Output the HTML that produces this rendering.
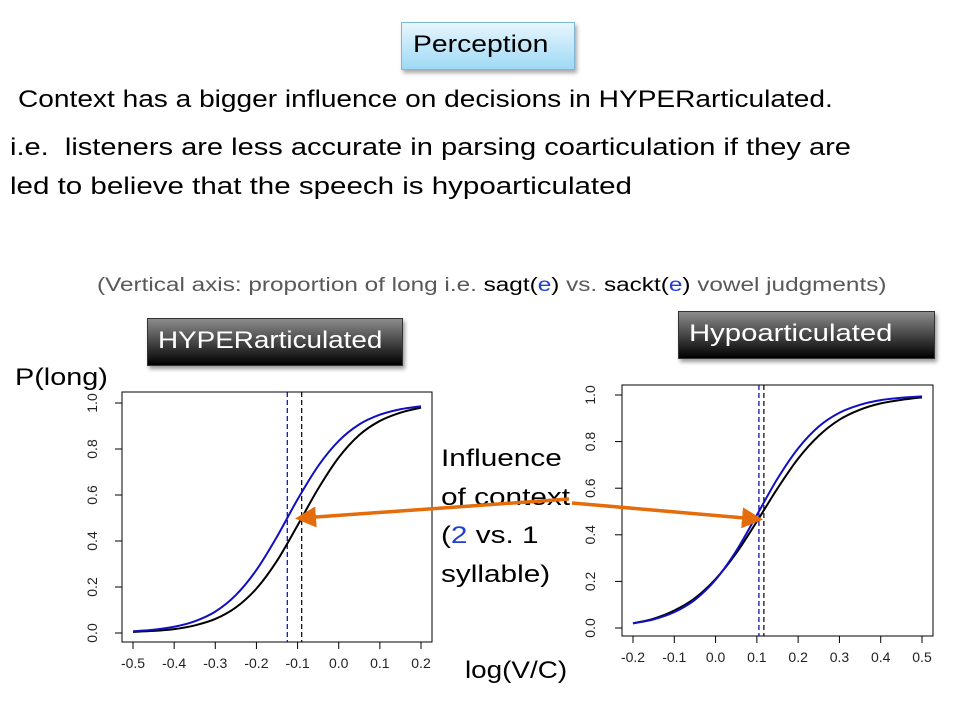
<!DOCTYPE html>
<html><head><meta charset="utf-8"><style>
body{margin:0;width:960px;height:720px;background:#fff;position:relative;overflow:hidden;font-family:"Liberation Sans",sans-serif}
.t{position:absolute;white-space:nowrap;color:#000;font-size:24px;transform-origin:0 0}
.box{position:absolute;box-sizing:border-box;font-size:24px;padding-left:10px;line-height:44px;white-space:nowrap}
.box span{display:inline-block;transform-origin:0 50%}
</style></head><body>
<div class="box" style="left:401px;top:22px;width:174px;height:48px;background:linear-gradient(#e8f6fd,#9ed9f5);border:1px solid #7fb8d6;box-shadow:2px 3px 4px rgba(0,0,0,.35);padding-left:11px"><span style="transform:scaleX(1.18)">Perception</span></div>
<div class="t" style="left:18px;top:86px;transform:scaleX(1.17)">Context has a bigger influence on decisions in HYPERarticulated.</div>
<div class="t" style="left:10px;top:134px;transform:scaleX(1.21)">i.e.&nbsp; listeners are less accurate in parsing coarticulation if they are</div>
<div class="t" style="left:10px;top:173px;transform:scaleX(1.23)">led to believe that the speech is hypoarticulated</div>
<div class="t" style="left:97px;top:275px;font-size:19px;color:#595959;transform:scaleX(1.28)">(Vertical axis: proportion of long i.e. <span style="color:#000">sagt(</span><span style="color:#1f3fd0">e</span><span style="color:#000">)</span> vs. <span style="color:#000">sackt(</span><span style="color:#1f3fd0">e</span><span style="color:#000">)</span> vowel judgments)</div>
<div class="box" style="left:147px;top:318px;width:256px;height:48px;background:linear-gradient(#8c8c8c,#000);color:#fff;border:1px solid #333;box-shadow:2px 3px 4px rgba(0,0,0,.4)"><span style="transform:scaleX(1.16)">HYPERarticulated</span></div>
<div class="box" style="left:678px;top:311px;width:257px;height:48px;background:linear-gradient(#8c8c8c,#000);color:#fff;border:1px solid #333;box-shadow:2px 3px 4px rgba(0,0,0,.4)"><span style="transform:scaleX(1.22)">Hypoarticulated</span></div>
<div class="t" style="left:15px;top:364px;transform:scaleX(1.2)">P(long)</div>
<div class="t" style="left:441px;top:440px;line-height:38.5px;transform:scaleX(1.24)">Influence<br>of context<br>(<span style="color:#1f3fd0">2</span> vs. 1<br>syllable)</div>
<div class="t" style="left:465px;top:657px;transform:scaleX(1.16)">log(V/C)</div>
<svg id="svg" width="960" height="720" style="position:absolute;left:0;top:0"></svg>
<script>
const xsL=[-0.5,-0.45,-0.4,-0.35,-0.3,-0.25,-0.2,-0.15,-0.1,-0.05,0,0.05,0.1,0.15,0.2];
const blackL=[0.005,0.009,0.017,0.033,0.061,0.111,0.193,0.314,0.468,0.627,0.763,0.861,0.922,0.958,0.98];
const blueL=[0.0076,0.014,0.027,0.051,0.093,0.165,0.274,0.419,0.581,0.726,0.835,0.907,0.949,0.973,0.986];
const midsL=[-0.125,-0.09];
const xsR=[-0.2,-0.15,-0.1,-0.05,0,0.05,0.1,0.15,0.2,0.25,0.3,0.35,0.4,0.45,0.5];
const blackR=[0.02,0.04,0.075,0.128,0.21,0.321,0.457,0.599,0.727,0.825,0.894,0.937,0.964,0.979,0.99];
const blueR=[0.02,0.037,0.068,0.121,0.207,0.331,0.485,0.641,0.771,0.865,0.924,0.958,0.978,0.988,0.994];
const midsR=[0.105,0.117];
const ticksXL=["-0.5","-0.4","-0.3","-0.2","-0.1","0.0","0.1","0.2"];
const ticksXR=["-0.2","-0.1","0.0","0.1","0.2","0.3","0.4","0.5"];
const ticksY=["0.0","0.2","0.4","0.6","0.8","1.0"];
const S=document.getElementById('svg'),NS='http://www.w3.org/2000/svg';
function mk(t,a,p){const e=document.createElementNS(NS,t);for(const k in a)e.setAttribute(k,a[k]);(p||S).appendChild(e);return e;}
function chart(name,box,x0,x1,pxX0,pxX1,y0px,y1px,xs,bl,bu,mids,tx,ylabX){
  const g=mk('g',{});
  
  
  const sx=v=>pxX0+(v-x0)*(pxX1-pxX0)/(x1-x0), sy=v=>y0px+(y1px-y0px)*v;
  const r=mk('rect',{x:box[0],y:box[1],width:box[2]-box[0],height:box[3]-box[1],fill:'none',stroke:'#000','stroke-width':1},g);
  
  tx.forEach(t=>{const X=sx(parseFloat(t));
    const l=mk('line',{x1:X,x2:X,y1:box[3],y2:box[3]+7,stroke:'#000'},g);
    
    const tt=mk('text',{x:X,y:box[3]+26,'text-anchor':'middle','font-size':14,'font-family':'Liberation Sans, sans-serif',fill:'#222'},g);tt.textContent=t;
    });
  ticksY.forEach(t=>{const Y=sy(parseFloat(t));
    const l=mk('line',{x1:box[0],x2:box[0]-7,y1:Y,y2:Y,stroke:'#000'},g);
    
    const tt=mk('text',{x:ylabX,y:Y,'text-anchor':'middle','font-size':14,'font-family':'Liberation Sans, sans-serif',fill:'#222',transform:`rotate(-90 ${ylabX} ${Y})`},g);tt.textContent=t;
    });
  const cols=['#0000b0','#000'];
  mids.forEach((m,i)=>{const l=mk('line',{x1:sx(m),x2:sx(m),y1:box[1],y2:box[3],stroke:cols[i],'stroke-dasharray':'5,3','stroke-width':1.2},g);
    });
  function path(ys,c,n){const P=xs.map((x,i)=>[sx(x),sy(ys[i])]);let d='M'+P[0];
    for(let i=0;i<P.length-1;i++){const a=P[Math.max(i-1,0)],b=P[i],c2=P[i+1],e=P[Math.min(i+2,P.length-1)];
      d+=` C${b[0]+(c2[0]-a[0])/6},${b[1]+(c2[1]-a[1])/6} ${c2[0]-(e[0]-b[0])/6},${c2[1]-(e[1]-b[1])/6} ${c2[0]},${c2[1]}`;}
    const p=mk('path',{d:d,fill:'none',stroke:c,'stroke-width':2},g);
    }
  path(bl,'#000','curve-1-syllable');path(bu,'#1010c0','curve-2-syllable');
}
chart('hyper-chart',[122,392,432,642],-0.5,0.2,133,421,633,403,xsL,blackL,blueL,midsL,ticksXL,97);
chart('hypo-chart',[622,385,933,636],-0.2,0.5,633,922,628,395,xsR,blackR,blueR,midsR,ticksXR,595);
const defs=mk('defs',{});const mkr=mk('marker',{id:'ah',markerWidth:6,markerHeight:6,refX:4,refY:3,orient:'auto'},defs);
mk('path',{d:'M0,0 L6,3 L0,6 Z',fill:'#e46c0a'},mkr);
const a1=mk('line',{x1:569,y1:499,x2:302,y2:518,stroke:'#e46c0a','stroke-width':3.5,'marker-end':'url(#ah)'});

const a2=mk('line',{x1:572,y1:503,x2:756,y2:519,stroke:'#e46c0a','stroke-width':3.5,'marker-end':'url(#ah)'});

</script>
</body></html>
